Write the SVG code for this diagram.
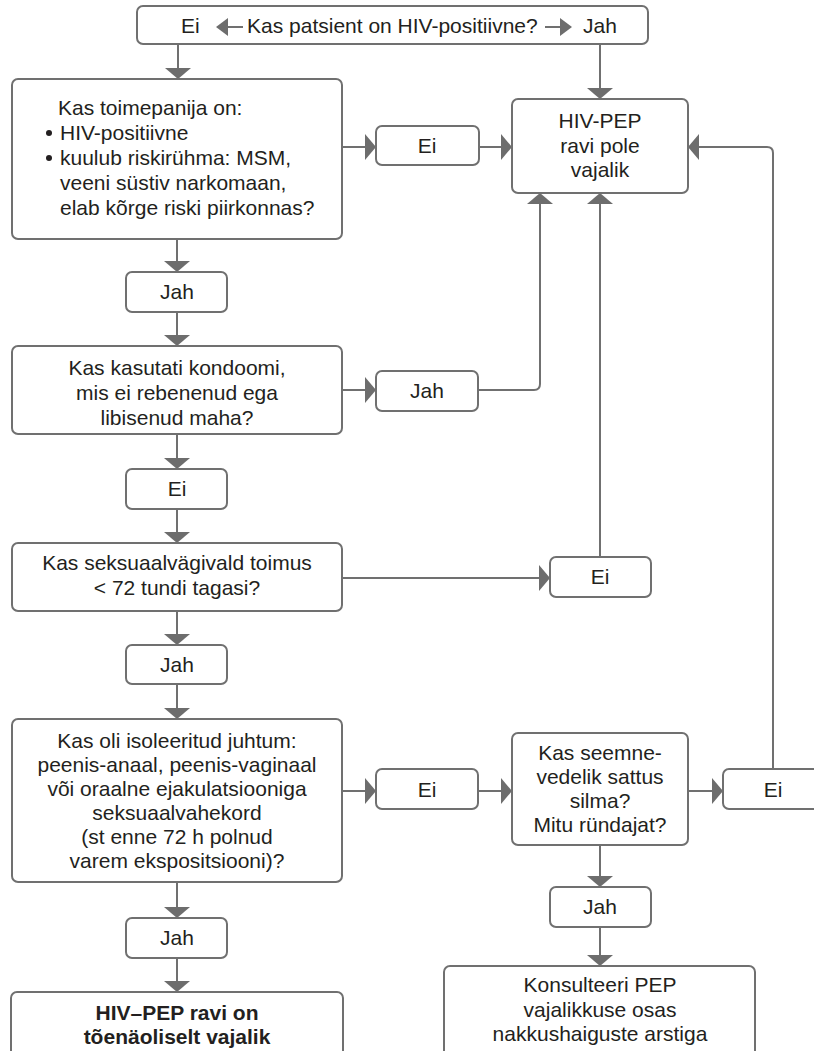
<svg xmlns="http://www.w3.org/2000/svg" width="814" height="1051" viewBox="0 0 814 1051">
<style>
.box{fill:#fff;stroke:#707070;stroke-width:2}
.c{fill:none;stroke:#707070;stroke-width:2}
.t{font-family:"Liberation Sans",Arial,sans-serif;font-size:21px;fill:#231f20}
.m{text-anchor:middle}
.b{font-weight:bold}
.tri{fill:#6d6d6d}
</style>
<defs>
<marker id="ah" markerUnits="userSpaceOnUse" viewBox="0 0 11 26" markerWidth="11" markerHeight="26" refX="11" refY="13" orient="auto">
<path d="M0,0 L11,13 L0,26 Z" class="tri"/>
</marker>
</defs>
<rect width="814" height="1051" fill="#fff"/>
<g id="connectors">
<path class="c" d="M178,44 V79" marker-end="url(#ah)"/>
<path class="c" d="M600,44 V99" marker-end="url(#ah)"/>
<path class="c" d="M342,147 H376" marker-end="url(#ah)"/>
<path class="c" d="M479,147 H512" marker-end="url(#ah)"/>
<path class="c" d="M177,239 V272" marker-end="url(#ah)"/>
<path class="c" d="M177,312 V346" marker-end="url(#ah)"/>
<path class="c" d="M342,390 H376" marker-end="url(#ah)"/>
<path class="c" d="M478,390 H534 Q540,390 540,384 V193" marker-end="url(#ah)"/>
<path class="c" d="M177,434 V469" marker-end="url(#ah)"/>
<path class="c" d="M177,509 V543" marker-end="url(#ah)"/>
<path class="c" d="M342,578 H550" marker-end="url(#ah)"/>
<path class="c" d="M600,557 V193" marker-end="url(#ah)"/>
<path class="c" d="M177,611 V645" marker-end="url(#ah)"/>
<path class="c" d="M177,684 V719" marker-end="url(#ah)"/>
<path class="c" d="M342,791 H376" marker-end="url(#ah)"/>
<path class="c" d="M478,791 H512" marker-end="url(#ah)"/>
<path class="c" d="M688,791 H723" marker-end="url(#ah)"/>
<path class="c" d="M773,769 V153 Q773,147 767,147 H688" marker-end="url(#ah)"/>
<path class="c" d="M177,882 V918" marker-end="url(#ah)"/>
<path class="c" d="M177,958 V992" marker-end="url(#ah)"/>
<path class="c" d="M600,845 V887" marker-end="url(#ah)"/>
<path class="c" d="M600,927 V966" marker-end="url(#ah)"/>
</g>
<g id="top">
<rect class="box" x="137" y="6" width="511" height="38" rx="6"/>
<text class="t" x="181" y="33">Ei</text>
<path class="c" d="M227,27 H243"/>
<path class="tri" d="M216,27 L228,18 L228,36 Z"/>
<text class="t" x="247" y="33">Kas patsient on HIV-positiivne?</text>
<path class="c" d="M545,27 H561"/>
<path class="tri" d="M572,27 L560,18 L560,36 Z"/>
<text class="t" x="583" y="33">Jah</text>
</g>
<g id="q1">
<rect class="box" x="12" y="79" width="330" height="160" rx="6"/>
<text class="t" x="58" y="115">Kas toimepanija on:</text>
<circle cx="49" cy="133" r="3" fill="#231f20"/>
<text class="t" x="60" y="140">HIV-positiivne</text>
<circle cx="49" cy="158" r="3" fill="#231f20"/>
<text class="t" x="60" y="165">kuulub riskirühma: MSM,</text>
<text class="t" x="60" y="190">veeni süstiv narkomaan,</text>
<text class="t" x="60" y="215">elab kõrge riski piirkonnas?</text>
</g>
<g id="ei1">
<rect class="box" x="376" y="126" width="103" height="39" rx="6"/>
<text class="t m" x="427" y="153">Ei</text>
</g>
<g id="nopep">
<rect class="box" x="512" y="99" width="176" height="94" rx="6"/>
<text class="t m" x="600" y="128">HIV-PEP</text>
<text class="t m" x="600" y="153">ravi pole</text>
<text class="t m" x="600" y="177">vajalik</text>
</g>
<g id="jah1">
<rect class="box" x="126" y="272" width="101" height="40" rx="6"/>
<text class="t m" x="177" y="299">Jah</text>
</g>
<g id="q2">
<rect class="box" x="12" y="346" width="330" height="88" rx="6"/>
<text class="t m" x="177" y="375">Kas kasutati kondoomi,</text>
<text class="t m" x="177" y="400">mis ei rebenenud ega</text>
<text class="t m" x="177" y="425">libisenud maha?</text>
</g>
<g id="jah2">
<rect class="box" x="376" y="371" width="102" height="40" rx="6"/>
<text class="t m" x="427" y="398">Jah</text>
</g>
<g id="ei2">
<rect class="box" x="126" y="469" width="101" height="40" rx="6"/>
<text class="t m" x="177" y="496">Ei</text>
</g>
<g id="q3">
<rect class="box" x="12" y="543" width="330" height="68" rx="6"/>
<text class="t m" x="177" y="570">Kas seksuaalvägivald toimus</text>
<text class="t m" x="177" y="595">&lt; 72 tundi tagasi?</text>
</g>
<g id="ei3">
<rect class="box" x="550" y="557" width="101" height="40" rx="6"/>
<text class="t m" x="600" y="584">Ei</text>
</g>
<g id="jah3">
<rect class="box" x="126" y="645" width="101" height="39" rx="6"/>
<text class="t m" x="177" y="672">Jah</text>
</g>
<g id="q4">
<rect class="box" x="12" y="719" width="330" height="163" rx="6"/>
<text class="t m" x="177" y="748">Kas oli isoleeritud juhtum:</text>
<text class="t m" x="177" y="772">peenis-anaal, peenis-vaginaal</text>
<text class="t m" x="177" y="796">või oraalne ejakulatsiooniga</text>
<text class="t m" x="177" y="820">seksuaalvahekord</text>
<text class="t m" x="177" y="844">(st enne 72 h polnud</text>
<text class="t m" x="177" y="868">varem ekspositsiooni)?</text>
</g>
<g id="ei4">
<rect class="box" x="376" y="769" width="102" height="40" rx="6"/>
<text class="t m" x="427" y="797">Ei</text>
</g>
<g id="q5">
<rect class="box" x="512" y="733" width="176" height="112" rx="6"/>
<text class="t m" x="600" y="760">Kas seemne-</text>
<text class="t m" x="600" y="784">vedelik sattus</text>
<text class="t m" x="600" y="808">silma?</text>
<text class="t m" x="600" y="832">Mitu ründajat?</text>
</g>
<g id="ei5">
<rect class="box" x="723" y="769" width="100" height="40" rx="6"/>
<text class="t m" x="773" y="797">Ei</text>
</g>
<g id="jah4">
<rect class="box" x="126" y="918" width="101" height="40" rx="6"/>
<text class="t m" x="177" y="945">Jah</text>
</g>
<g id="pep">
<rect class="box" x="11" y="992" width="332" height="80" rx="6"/>
<text class="t m b" x="177" y="1020">HIV–PEP ravi on</text>
<text class="t m b" x="177" y="1044">tõenäoliselt vajalik</text>
</g>
<g id="jah5">
<rect class="box" x="550" y="887" width="101" height="40" rx="6"/>
<text class="t m" x="600" y="914">Jah</text>
</g>
<g id="consult">
<rect class="box" x="444" y="966" width="311" height="110" rx="6"/>
<text class="t m" x="600" y="992">Konsulteeri PEP</text>
<text class="t m" x="600" y="1017">vajalikkuse osas</text>
<text class="t m" x="600" y="1041">nakkushaiguste arstiga</text>
</g>
</svg>
